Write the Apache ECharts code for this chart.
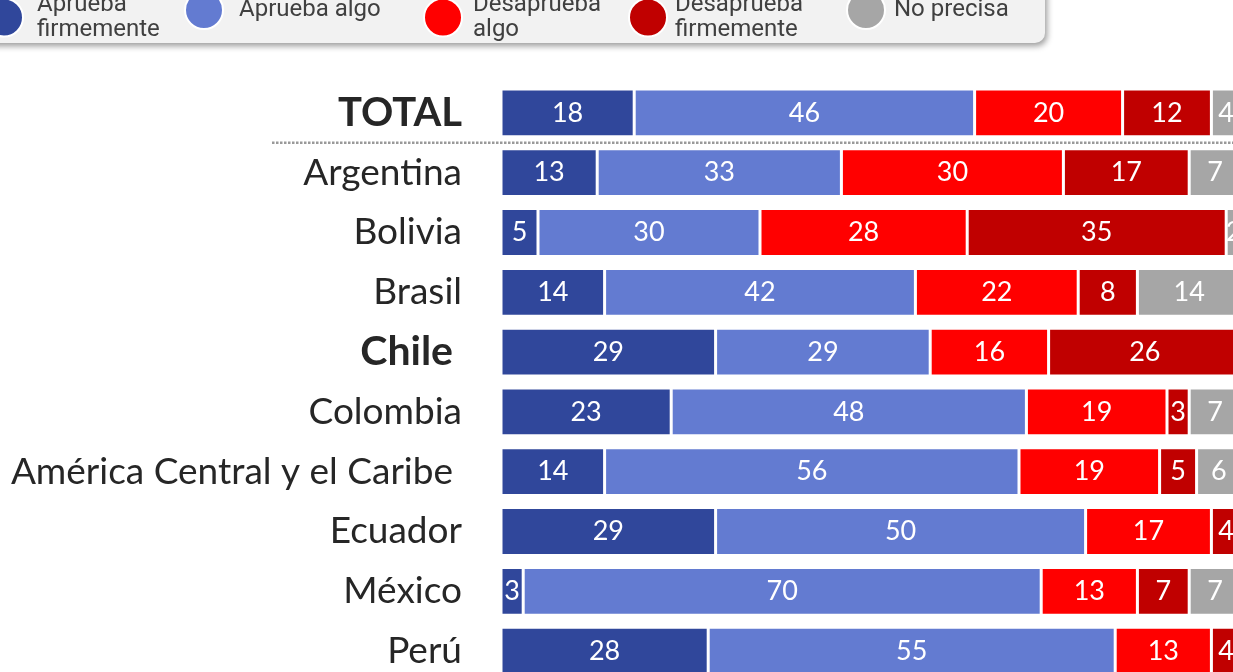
<!DOCTYPE html>
<html>
<head>
<meta charset="utf-8">
<script src="https://cdn.jsdelivr.net/npm/echarts@6/dist/echarts.min.js"></script>
<style>html,body{margin:0;padding:0;background:#fff;}#c{width:1233px;height:672px;}</style>
</head>
<body>
<div id="c"></div>
<script>
const categories = ['TOTAL','Argentina','Bolivia','Brasil','Chile','Colombia','América Central y el Caribe','Ecuador','México','Perú'];
const seriesNames = ['Aprueba firmemente','Aprueba algo','Desaprueba algo','Desaprueba firmemente','No precisa'];
const apruebaFirme    = [18,13, 5,14,29,23,14,29, 3,28];
const apruebaAlgo     = [46,33,30,42,29,48,56,50,70,55];
const desapruebaAlgo  = [20,30,28,22,16,19,19,17,13,13];
const desapruebaFirme = [12,17,35, 8,26, 3, 5, 4, 7, 4];
const noPrecisa       = [ 4, 7, 2,14, 0, 7, 6, 0, 7, 0];
const values = [apruebaFirme, apruebaAlgo, desapruebaAlgo, desapruebaFirme, noPrecisa];
const colors = ['#30479B','#637BD1','#FF0000','#C00000','#A6A6A6'];
const legendLabels = {'Aprueba firmemente':'Aprueba\nfirmemente','Aprueba algo':'Aprueba algo','Desaprueba algo':'Desaprueba\nalgo','Desaprueba firmemente':'Desaprueba\nfirmemente','No precisa':'No precisa'};

const chart = echarts.init(document.getElementById('c'));
const legendLeft = [-16, 184, 423, 628, 846];
const legendPad = [9, 11, 6, 3, 4];
const legends = seriesNames.map((n, i) => ({
  data: [n], left: legendLeft[i], top: -10, orient: 'horizontal',
  icon: 'circle', itemWidth: 38, itemHeight: 38, padding: 0,
  selectedMode: false,
  formatter: name => legendLabels[name],
  textStyle: {fontFamily: 'Roboto', fontSize: 24, color: '#404040', lineHeight: 25,
    padding: [legendLabels[n].indexOf('\n') >= 0 ? 5 : 0, 0, 0, legendPad[i]]}
}));

const option = {
  animation: false,
  legend: legends,
  graphic: [{
    type: 'rect', id: 'legendBox', z: -1,
    shape: {x: -30, y: -40, width: 1075, height: 83, r: 10},
    style: {fill: '#F2F2F2', shadowBlur: 6, shadowOffsetX: 2, shadowOffsetY: 3, shadowColor: 'rgba(0,0,0,0.4)'}
  }],
  grid: {left: 501, top: 83, width: 740, height: 598, containLabel: false, outerBoundsMode: 'none'},
  xAxis: {type: 'value', min: 0, max: 100, show: false},
  yAxis: {
    type: 'category', data: categories, inverse: true,
    axisLine: {show: false}, axisTick: {show: false},
    axisLabel: {
      margin: 39,
      formatter: v => v === 'TOTAL' ? '{b|' + v + '}' : v === 'Chile' ? '{c|' + v + '}' : v.indexOf('América') === 0 ? '{s|' + v + '}' : '{n|' + v + '}',
      rich: {
        n: {fontFamily: 'Lato', fontSize: 37, color: '#262626'},
        s: {fontFamily: 'Lato', fontSize: 37, color: '#262626', padding: [0, 9, 0, 0]},
        b: {fontFamily: 'Lato', fontSize: 40, fontWeight: 'bold', color: '#262626'},
        c: {fontFamily: 'Lato', fontSize: 41, fontWeight: 'bold', color: '#262626', padding: [0, 9, 0, 0]}
      }
    }
  },
  series: seriesNames.map((n, i) => ({
    name: n, type: 'bar', stack: 'total', barCategoryGap: '20%',
    data: values[i].map(v => v === 0 ? null : v),
    itemStyle: {color: colors[i], borderColor: '#FFFFFF', borderWidth: 1.5},
    label: {show: true, position: 'inside', color: '#FFFFFF', fontFamily: 'Lato', fontSize: 27}
  }))
};
chart.setOption(option);
const y0 = chart.convertToPixel({yAxisIndex: 0}, 'TOTAL');
const y1 = chart.convertToPixel({yAxisIndex: 0}, 'Argentina');
chart.setOption({graphic: [{
  type: 'line', id: 'sep', z: 10,
  shape: {x1: 272, y1: (y0 + y1) / 2, x2: 1233, y2: (y0 + y1) / 2},
  style: {stroke: '#999999', lineWidth: 2.5, lineDash: [2.5, 1.5]}
}]});
</script>
</body>
</html>
